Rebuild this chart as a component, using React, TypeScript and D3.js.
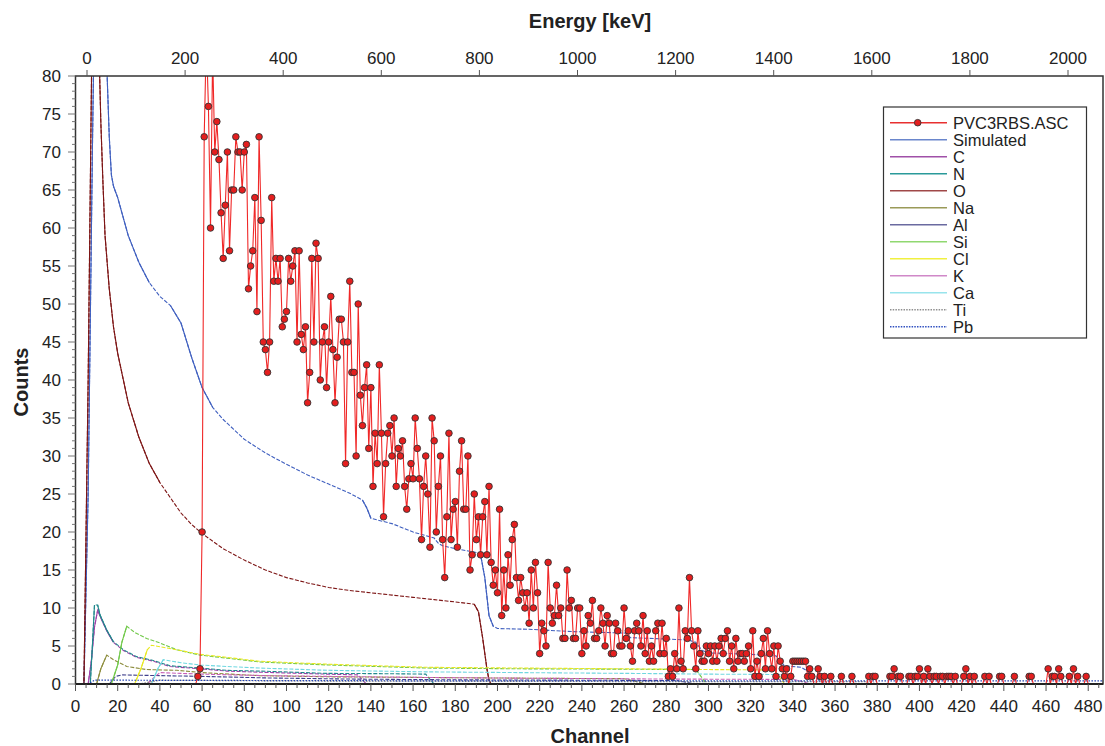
import React from "react";
import * as d3 from "d3";

// measured spectrum, one value per channel starting at channel 58 (zero before)
const expFirstChannel = 58;
const expCounts = [
  1, 2,
  20, 72, 85, 76, 60, 83, 70, 74, 69, 62,
  56, 63, 70, 57, 65, 65, 72, 70, 70, 65,
  70, 71, 52, 55, 57, 64, 49, 72, 61, 45,
  44, 41, 45, 64, 53, 56, 53, 56, 47, 48,
  49, 56, 53, 55, 57, 45, 57, 46, 44, 47,
  37, 41, 56, 45, 58, 56, 40, 45, 47, 39,
  45, 51, 44, 37, 43, 48, 48, 45, 29, 45,
  53, 41, 41, 30, 50, 38, 34, 39, 42, 31,
  39, 26, 33, 29, 42, 33, 22, 29, 33, 34,
  30, 35, 26, 31, 30, 32, 26, 23, 27, 29,
  27, 35, 31, 27, 19, 26, 30, 25, 18, 35,
  32, 20, 26, 30, 19, 14, 22, 33, 19, 23,
  24, 18, 28, 32, 23, 23, 30, 15, 17, 25,
  19, 22, 17, 22, 24, 17, 26, 16, 13, 15,
  12, 23, 9, 15, 10, 17, 13, 19, 21, 14,
  11, 14, 12, 10, 12, 8, 15, 10, 16, 12,
  4, 8, 7, 5, 16, 10, 8, 9, 13, 9,
  10, 6, 6, 15, 10, 11, 6, 6, 10, 10,
  4, 7, 5, 9, 8, 11, 6, 6, 7, 10,
  8, 5, 9, 8, 4, 4, 8, 7, 5, 5,
  10, 6, 7, 5, 3, 7, 8, 7, 5, 9,
  4, 7, 3, 5, 3, 7, 8, 4, 8, 4,
  6, 1, 2, 1, 4, 2, 10, 3, 2, 7,
  6, 14, 7, 5, 2, 7, 4, 3, 3, 5,
  4, 5, 3, 5, 3, 5, 6, 4, 6, 7,
  3, 5, 2, 6, 3, 4, 4, 3, 4, 5,
  2, 7, 1, 3, 1, 4, 6, 2, 7, 4,
  2, 5, 1, 5, 3, 2, 1, 2, 0, 1,
  3, 3, 3, 3, 3, 3, 3, 1, 2, 1,
  0, 0, 2, 1, 0, 1, 0, 0, 1, 0,
  0, 0, 0, 1, 0, 0, 0, 0, 1, 0,
  0, 0, 0, 0, 0, 0, 1, 0, 1, 1,
  0, 0, 0, 0, 0, 0, 1, 1, 2, 0,
  1, 1, 0, 0, 0, 1, 1, 0, 1, 1,
  2, 0, 1, 0, 2, 1, 0, 1, 1, 0,
  1, 1, 0, 1, 1, 1, 0, 1, 0, 0,
  0, 1, 2, 0, 1, 0, 1, 0, 0, 0,
  0, 1, 0, 1, 0, 0, 0, 0, 1, 1,
  0, 0, 0, 0, 0, 1, 0, 0, 0, 0,
  0, 0, 1, 1, 0, 0, 0, 0, 0, 0,
  0, 2, 0, 1, 1, 0, 2, 1, 0, 0,
  0, 1, 0, 2, 0, 1, 0, 0, 0, 1,
  0, 0, 0, 0, 0, 0, 0, 0,
];

// simulated total and element contributions, read as (channel, counts)
const simChannels = [0, 4, 6, 8, 10, 12, 14, 15, 16, 17, 18, 20, 22, 25, 30, 35, 40, 45, 50, 55, 60, 65, 70, 75, 80, 90, 100, 110, 120, 130, 136, 138, 140, 150, 160, 170, 172, 174, 180, 190, 192, 194, 196, 198, 200, 215, 235, 261, 263, 290, 294, 297, 300, 320, 332, 336, 344, 348, 352, 356, 360, 487];
const simCounts = [0, 0, 25, 70, 110, 120, 90, 80, 72, 67, 65.5, 64, 62, 59, 55.5, 52.8, 51, 49.8, 47.5, 43, 39, 36.4, 34.8, 33.5, 32.2, 30.4, 28.9, 27.5, 26.3, 25.1, 24.2, 23.2, 21.8, 21.1, 20, 19.2, 18.5, 18.2, 17.8, 17.3, 17, 14, 9, 7.6, 7.3, 7.2, 6.9, 6.7, 6.1, 5.8, 5.5, 4.4, 4.1, 3.9, 3.7, 2.4, 2.2, 1.5, 0.6, 0.1, 0, 0];

const cChannels = [0, 6, 7.5, 9, 10.5, 12, 14.8, 17.9, 22.7, 29, 36.9, 44.8, 59, 71.7, 87.4, 119, 134, 136, 138, 487];
const cCounts = [0, 0, 3, 7.5, 9.7, 8.7, 7.0, 5.5, 4.4, 3.5, 3.0, 2.3, 2.0, 1.7, 1.55, 1.3, 1.2, 0.5, 0, 0];

const nChannels = [0, 7, 8, 9, 10.5, 11.6, 14.8, 17.9, 22.7, 29, 36.9, 44.8, 59, 71.7, 87.4, 119, 150, 166, 168, 170, 487];
const nCounts = [0, 0, 5, 10.4, 10.4, 9.1, 7.1, 5.6, 4.5, 3.6, 3.1, 2.4, 2.1, 1.8, 1.7, 1.4, 1.35, 1.3, 0.6, 0, 0];

const oChannels = [0, 4, 6, 8, 9, 10, 11, 12, 13, 14, 16, 18, 20, 25, 30, 35, 40, 45, 50, 55, 60, 70, 80, 90, 100, 110, 120, 130, 140, 150, 160, 170, 180, 189, 191, 193, 195, 196, 197, 487];
const oCounts = [0, 0, 40, 90, 100, 95, 85, 74, 66, 59, 52, 47, 43.5, 37, 32.5, 29, 26.5, 24.5, 22.5, 21, 19.8, 17.8, 16.3, 15, 14, 13.3, 12.7, 12.3, 12, 11.7, 11.4, 11.1, 10.8, 10.5, 9.5, 6, 2, 0.5, 0, 0];

const naChannels = [0, 10, 12, 14.8, 18, 24.3, 33.7, 48, 60, 87, 120, 170, 220, 260, 266, 270, 487];
const naCounts = [0, 0, 2, 3.8, 3.2, 2.3, 1.9, 1.8, 1.5, 1.1, 0.95, 0.85, 0.75, 0.7, 0.3, 0, 0];

const alChannels = [0, 16, 19, 22, 40, 60, 90, 130, 180, 240, 285, 290, 294, 487];
const alCounts = [0, 0, 1.0, 1.2, 1.1, 1.0, 0.8, 0.65, 0.55, 0.5, 0.45, 0.2, 0, 0];

const siChannels = [0, 17, 20, 22, 24.3, 28, 33.7, 40, 48, 59, 71.7, 87.4, 120, 166, 210, 260, 294, 297, 299, 487];
const siCounts = [0, 0, 2.5, 5.5, 7.6, 6.8, 6.0, 5.4, 4.5, 3.8, 3.4, 2.9, 2.5, 2.1, 2.0, 1.95, 1.9, 0.8, 0, 0];

const clChannels = [0, 28, 31, 34, 36, 40, 48, 59, 72, 87, 120, 166, 210, 260, 300, 331, 334, 336, 487];
const clCounts = [0, 0, 2, 4.5, 5.1, 4.9, 4.5, 3.9, 3.5, 3.0, 2.6, 2.2, 2.1, 2.0, 1.9, 1.85, 0.8, 0, 0];

const kChannels = [0, 34, 37, 40, 50, 60, 90, 120, 170, 220, 280, 340, 345, 348, 487];
const kCounts = [0, 0, 0.8, 1.5, 1.4, 1.3, 1.1, 1.0, 0.85, 0.75, 0.65, 0.6, 0.3, 0, 0];

const caChannels = [0, 36, 39, 41.6, 50, 59, 72, 87, 120, 166, 210, 260, 300, 334, 337, 340, 487];
const caCounts = [0, 0, 2, 3.2, 2.8, 2.5, 2.3, 2.1, 1.8, 1.6, 1.5, 1.4, 1.3, 1.25, 0.5, 0, 0];

const tiChannels = [0, 30, 40, 100, 200, 300, 375, 380, 487];
const tiCounts = [0, 0, 0.5, 0.4, 0.35, 0.3, 0.3, 0, 0];

const pbChannels = [0, 6, 9, 20, 100, 200, 300, 400, 487];
const pbCounts = [0, 0, 0.5, 0.5, 0.45, 0.4, 0.4, 0.4, 0.4];

const channelTicks = [0, 20, 40, 60, 80, 100, 120, 140, 160, 180, 200, 220, 240, 260, 280, 300, 320, 340, 360, 380, 400, 420, 440, 460, 480];
const energyTicks = [0, 200, 400, 600, 800, 1000, 1200, 1400, 1600, 1800, 2000];
const countTicks = [0, 5, 10, 15, 20, 25, 30, 35, 40, 45, 50, 55, 60, 65, 70, 75, 80];

const FONT = "'Liberation Sans', Arial, Helvetica, sans-serif";

const x = d3.scaleLinear().domain([0, 487]).range([75.5, 1103]);
const y = d3.scaleLinear().domain([0, 80]).range([684, 76]);
const xE = d3.scaleLinear().domain([0, 2000]).range([87, 1068]);

type Pt = [number, number];
const zip = (a: number[], b: number[]): Pt[] => a.map((c, i) => [c, b[i]]);

const series = [
  { name: "Simulated", color: "#3f5fbf", legend: "#6a86cc", dot: false, pts: zip(simChannels, simCounts) },
  { name: "C", color: "#a040a8", legend: "#a050a8", dot: false, pts: zip(cChannels, cCounts) },
  { name: "N", color: "#20888c", legend: "#2a9a9a", dot: false, pts: zip(nChannels, nCounts) },
  { name: "O", color: "#7d1515", legend: "#a04848", dot: false, pts: zip(oChannels, oCounts) },
  { name: "Na", color: "#8c8c3c", legend: "#9a9a58", dot: false, pts: zip(naChannels, naCounts) },
  { name: "Al", color: "#40408c", legend: "#6a6aa0", dot: false, pts: zip(alChannels, alCounts) },
  { name: "Si", color: "#70c848", legend: "#90d870", dot: false, pts: zip(siChannels, siCounts) },
  { name: "Cl", color: "#e8e820", legend: "#f0f040", dot: false, pts: zip(clChannels, clCounts) },
  { name: "K", color: "#c860b8", legend: "#d088c8", dot: false, pts: zip(kChannels, kCounts) },
  { name: "Ca", color: "#70d8e0", legend: "#98e4ec", dot: false, pts: zip(caChannels, caCounts) },
  { name: "Ti", color: "#808080", legend: "#909090", dot: true, pts: zip(tiChannels, tiCounts) },
  { name: "Pb", color: "#2040b0", legend: "#3050c0", dot: true, pts: zip(pbChannels, pbCounts) },
];

const expPts: Pt[] = d3.range(0, expFirstChannel + expCounts.length).map((c) => [
  c,
  c < expFirstChannel ? 0 : expCounts[c - expFirstChannel],
]);

const line = d3
  .line<Pt>()
  .x((d) => x(d[0]))
  .y((d) => y(d[1]));

// steep pieces of a curve are drawn solid, the flat parts stay dashed
function steepSegments(pts: Pt[]) {
  const segs: [Pt, Pt][] = [];
  for (let i = 1; i < pts.length; i++) {
    const dx = Math.abs(x(pts[i][0]) - x(pts[i - 1][0]));
    const dy = Math.abs(y(pts[i][1]) - y(pts[i - 1][1]));
    if (dy > 1.5 * dx) segs.push([pts[i - 1], pts[i]]);
  }
  return segs;
}

const App: React.FC = () => {
  const legendRows = [{ name: "PVC3RBS.ASC", color: "#e83030", dot: false }, ...series.map((s) => ({ name: s.name, color: s.legend, dot: s.dot }))];
  return (
    <svg width={1105} height={746} style={{ position: "absolute", left: 0, top: 0, background: "#fff" }} fontFamily={FONT}>
      <defs>
        <clipPath id="plot">
          <rect x={75.5} y={76} width={1103 - 75.5} height={684 - 76} />
        </clipPath>
      </defs>

      <g clipPath="url(#plot)">
        {series.map((s) => (
          <g key={s.name}>
            <path d={line(s.pts) ?? ""} fill="none" stroke={s.color} strokeWidth={s.dot ? 1.2 : 1.1} strokeDasharray={s.dot ? "1.5 1.5" : "4 1.6"} />
            {!s.dot &&
              steepSegments(s.pts).map((seg, i) => (
                <line key={i} x1={x(seg[0][0])} y1={y(seg[0][1])} x2={x(seg[1][0])} y2={y(seg[1][1])} stroke={s.color} strokeWidth={1.1} />
              ))}
          </g>
        ))}
        <path d={line(expPts) ?? ""} fill="none" stroke="#f02828" strokeWidth={1.1} />
        {expPts
          .filter((d) => d[1] > 0)
          .map((d) => (
            <circle key={d[0]} cx={x(d[0])} cy={y(d[1])} r={3.3} fill="#e41e1e" stroke="#333" strokeWidth={0.9} />
          ))}
      </g>

      {/* frame */}
      <rect x={75.5} y={76} width={1103 - 75.5} height={684 - 76} fill="none" stroke="#333" strokeWidth={1.5} />
      <line x1={75.5} x2={1103} y1={684} y2={684} stroke="#222" strokeWidth={2.2} />

      {/* bottom axis */}
      {d3.range(0, 486, 5).map((c) => (
        <line key={"bm" + c} x1={x(c)} x2={x(c)} y1={684} y2={c % 20 === 0 ? 691 : 688} stroke="#555" strokeWidth={1} />
      ))}
      {channelTicks.map((c) => (
        <text key={"bl" + c} x={x(c)} y={712} textAnchor="middle" fontSize={17} fill="#222">
          {c}
        </text>
      ))}

      {/* top axis */}
      {energyTicks.map((e) => (
        <g key={"t" + e}>
          <line x1={xE(e)} x2={xE(e)} y1={76} y2={70} stroke="#555" strokeWidth={1} />
          <text x={xE(e)} y={64} textAnchor="middle" fontSize={17} fill="#222">
            {e}
          </text>
        </g>
      ))}

      {/* left axis */}
      {d3.range(0, 81, 1).map((v) => (
        <line key={"lm" + v} x1={75.5} x2={v % 5 === 0 ? 68 : 72} y1={y(v)} y2={y(v)} stroke="#777" strokeWidth={1} />
      ))}
      {countTicks.map((v) => (
        <text key={"ll" + v} x={61} y={y(v)} dy="0.36em" textAnchor="end" fontSize={17} fill="#222">
          {v}
        </text>
      ))}

      {/* titles */}
      <text x={590} y={28} textAnchor="middle" fontSize={20} fontWeight="bold" fill="#222">
        Energy [keV]
      </text>
      <text x={590} y={743} textAnchor="middle" fontSize={20} fontWeight="bold" fill="#222">
        Channel
      </text>
      <text transform="translate(28,382) rotate(-90)" textAnchor="middle" fontSize={20} fontWeight="bold" fill="#222">
        Counts
      </text>

      {/* legend */}
      <g>
        <rect x={883.5} y={107} width={203} height={231} fill="#fff" stroke="#333" strokeWidth={1.2} />
        {legendRows.map((r, i) => {
          const ly = 122.7 + i * 17.0;
          return (
            <g key={r.name}>
              <line x1={890} x2={947} y1={ly} y2={ly} stroke={r.color} strokeWidth={1.4} strokeDasharray={r.dot ? "1.5 1.2" : undefined} />
              {i === 0 && <circle cx={917.7} cy={ly} r={3.3} fill="#e41e1e" stroke="#333" strokeWidth={0.9} />}
              <text x={953} y={ly + 5.8} fontSize={16.5} fill="#222">
                {r.name}
              </text>
            </g>
          );
        })}
      </g>
    </svg>
  );
};

export default App;
